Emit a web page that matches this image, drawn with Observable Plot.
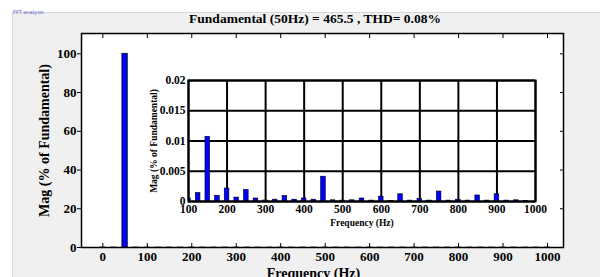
<!DOCTYPE html>
<html><head><meta charset="utf-8">
<script src="https://cdn.jsdelivr.net/npm/d3@7"></script>
<script src="https://cdn.jsdelivr.net/npm/@observablehq/plot@0.6"></script>
<style>
body{margin:0;background:#fff;width:600px;height:277px;overflow:hidden;position:relative;font-family:"Liberation Serif",serif;}
#bg{position:absolute;left:12px;top:12px;width:588px;height:265px;background:#f0f0f0;border-top:1px solid #d6d6d6;border-left:1px solid #d6d6d6;}
#tag{position:absolute;left:13px;top:9px;font:5px "DejaVu Sans",sans-serif;color:#5555cc;}
#title{position:absolute;left:0;width:630px;top:11px;text-align:center;font:bold 13.5px "Liberation Serif",serif;color:#000;}
#main{position:absolute;left:0;top:0;}
#inset{position:absolute;left:140px;top:70px;}
svg{font-family:"Liberation Serif",serif;font-weight:bold;}
</style></head>
<body>
<div id="bg"></div>
<div id="tag">FFT analysis</div>
<div id="title">Fundamental (50Hz) = 465.5 , THD= 0.08%</div>
<div id="main"></div>
<div id="inset"></div>
<script>
// ---- data ----
const fundamentalFreq = [50];
const fundamentalMag = [100];
const harmonicFreq = [0,25,75,100,125,150,175,200,225,250,275,300,325,350,375,400,425,450,475,500,525,550,575,600,625,650,675,700,725,750,775,800,825,850,875,900,925,950,975,1000];
const harmonicMag = [0.0002,0.0003,0.0004,0.0005,0.0014,0.0107,0.00095,0.00215,0.00065,0.0019,0.0005,0.00017,0.0003,0.0009,0.0003,0.0005,0.0003,0.0041,0.0002,0.00015,0.0002,0.0005,0.00015,0.0008,0.0001,0.0012,0.00015,0.00045,0.00015,0.00165,0.00015,0.0003,0.00015,0.001,0.00015,0.0012,0.00015,0.0002,0.0001,0.0001];
const mainXTicks = [0,100,200,300,400,500,600,700,800,900,1000];
const mainYTicks = [0,20,40,60,80,100];
const insetXTicks = [100,200,300,400,500,600,700,800,900,1000];
const insetYTicks = [0,0.005,0.01,0.015,0.02];

const fundamental = fundamentalFreq.map((f,i)=>({f, mag: fundamentalMag[i]}));
const harmonics = harmonicFreq.map((f,i)=>({f, mag: harmonicMag[i]}));
const hw = 6;
const fmt = d => String(d);

const main = Plot.plot({
  width: 600, height: 277,
  marginLeft: 81, marginRight: 37, marginTop: 33, marginBottom: 30,
  style: {background: "transparent", fontFamily: "Liberation Serif", fontWeight: "bold"},
  x: {domain: [-48, 1036]},
  y: {domain: [0, 110.5]},
  marks: [
    Plot.frame({fill: "white", stroke: null}),
    Plot.rectY(harmonics, {x1: d => d.f - hw, x2: d => d.f + hw, y: "mag", fill: "blue", stroke: "#666", strokeWidth: 1}),
    Plot.rectY(fundamental, {x1: d => d.f - hw, x2: d => d.f + hw, y: "mag", fill: "#0000ff", stroke: "black", strokeWidth: 0.8}),
    Plot.axisX({ticks: mainXTicks, tickFormat: fmt, anchor: "bottom", tickSize: -4, tickPadding: 8, fontSize: 13, label: "Frequency (Hz)", labelAnchor: "center", labelOffset: 30, labelArrow: "none"}),
    Plot.axisX({ticks: mainXTicks, anchor: "top", tickSize: -4, tickFormat: () => "", label: null}),
    Plot.axisY({ticks: mainYTicks, tickFormat: fmt, anchor: "left", tickSize: 4, tickPadding: 1, fontSize: 13, label: "Mag (% of Fundamental)", labelAnchor: "center", labelOffset: 42, labelArrow: "none"}),
    Plot.axisY({ticks: mainYTicks, anchor: "right", tickSize: -4, tickFormat: () => "", label: null}),
    Plot.frame({stroke: "black", strokeWidth: 1.5})
  ]
});
main.querySelectorAll("g[aria-label='x-axis label'] text, g[aria-label='y-axis label'] text").forEach(t => t.setAttribute("font-size", "14"));
main.querySelectorAll("g[aria-label='x-axis label'] text").forEach(t => t.setAttribute("dx", "-9"));
document.getElementById("main").append(main);

const inset = Plot.plot({
  width: 410, height: 160,
  marginLeft: 48, marginRight: 15, marginTop: 10, marginBottom: 29,
  style: {background: "transparent", fontFamily: "Liberation Serif", fontWeight: "bold"},
  x: {domain: [100, 1000]},
  y: {domain: [0, 0.02]},
  marks: [
    Plot.gridX(insetXTicks, {stroke: "black", strokeOpacity: 1, strokeWidth: 2}),
    Plot.gridY(insetYTicks, {stroke: "black", strokeOpacity: 1, strokeWidth: 2}),
    Plot.rectY(harmonics.filter(d => d.f >= 100 && d.f < 1000), {x1: d => d.f - hw, x2: d => d.f + hw, y: "mag", fill: "#0000ff", stroke: "black", strokeWidth: 0.6, clip: true}),
    Plot.axisX({ticks: insetXTicks, tickFormat: fmt, anchor: "bottom", tickSize: 0, tickPadding: 3, fontSize: 11.5, label: "Frequency (Hz)", labelAnchor: "center", labelOffset: 24, labelArrow: "none"}),
    Plot.axisY({ticks: insetYTicks, tickFormat: fmt, anchor: "left", tickSize: 0, tickPadding: 3, fontSize: 11.5, label: "Mag (% of Fundamental)", labelAnchor: "center", labelOffset: 38, labelArrow: "none"}),
    Plot.frame({stroke: "black", strokeWidth: 2})
  ]
});
inset.querySelectorAll("g[aria-label='x-axis label'] text, g[aria-label='y-axis label'] text").forEach(t => t.setAttribute("font-size", "9.5"));
document.getElementById("inset").append(inset);
</script>
</body></html>
